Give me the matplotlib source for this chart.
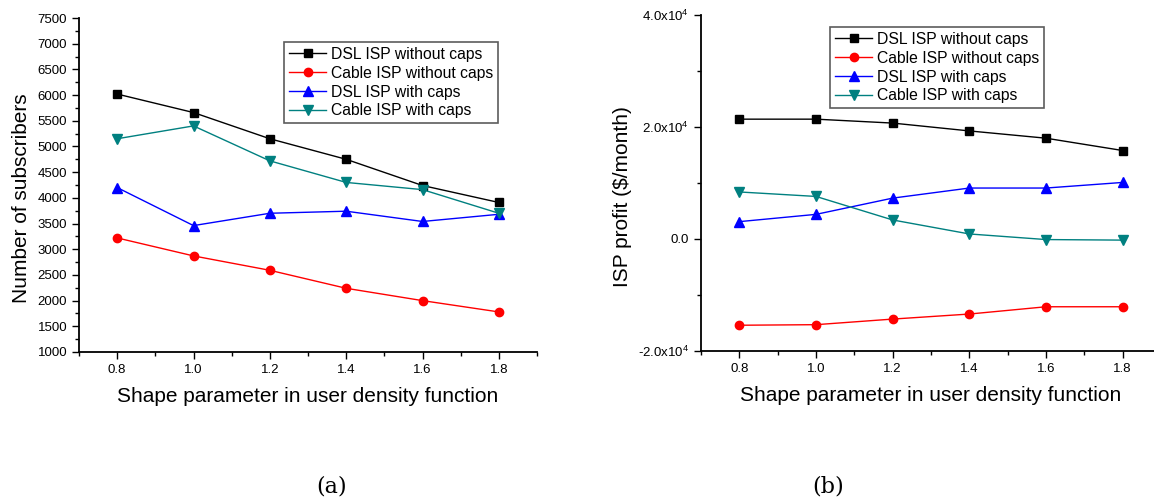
import matplotlib
matplotlib.use("Agg")
import matplotlib.pyplot as plt
from matplotlib.ticker import MultipleLocator, FixedLocator, FixedFormatter

plt.rcParams['font.family'] = ['Liberation Sans', 'DejaVu Sans']
plt.rcParams['mathtext.fontset'] = 'custom'
plt.rcParams['mathtext.rm'] = 'Liberation Sans'

shape = [0.8, 1.0, 1.2, 1.4, 1.6, 1.8]
series_names = ["DSL ISP without caps", "Cable ISP without caps",
                "DSL ISP with caps", "Cable ISP with caps"]

subs_dsl_nocap = [6020, 5660, 5150, 4750, 4240, 3910]
subs_cable_nocap = [3220, 2870, 2590, 2240, 2000, 1780]
subs_dsl_cap = [4200, 3460, 3700, 3740, 3540, 3680]
subs_cable_cap = [5150, 5400, 4720, 4300, 4160, 3700]

profit_dsl_nocap = [21400, 21400, 20700, 19300, 18000, 15800]
profit_cable_nocap = [-15400, -15300, -14300, -13400, -12100, -12100]
profit_dsl_cap = [3100, 4400, 7300, 9100, 9100, 10100]
profit_cable_cap = [8400, 7600, 3400, 900, -100, -200]

profit_ticks = [-20000, 0, 20000, 40000]
profit_ticklabels = [r"-2.0x10$^4$", "0.0", r"2.0x10$^4$", r"4.0x10$^4$"]

colors = ["#000000", "#ff0000", "#0000ff", "#008080"]
markers = ["s", "o", "^", "v"]
msizes = [5.5, 6.0, 6.5, 6.5]

W, H = 1154, 501
fig = plt.figure(figsize=(W / 100, H / 100), dpi=100)

def style_axes(ax):
    for s in ["top", "right"]:
        ax.spines[s].set_visible(False)
    for s in ["left", "bottom"]:
        ax.spines[s].set_linewidth(1.3)
    ax.tick_params(which="both", direction="out", width=1.0, labelsize=9.5)
    ax.tick_params(which="major", length=5)
    ax.tick_params(which="minor", length=3)
    ax.set_xlim(0.7, 1.9)
    ax.xaxis.set_major_locator(FixedLocator(shape))
    ax.xaxis.set_major_formatter(FixedFormatter(["%.1f" % v for v in shape]))
    ax.xaxis.set_minor_locator(MultipleLocator(0.1))
    ax.set_xlabel("Shape parameter in user density function", fontsize=15, labelpad=8)

def plot_series(ax, data):
    hs = []
    for d, c, m, ms, n in zip(data, colors, markers, msizes, series_names):
        h, = ax.plot(shape, d, color=c, marker=m, markersize=ms, linewidth=1.0,
                     markeredgecolor=c, label=n, clip_on=False)
        hs.append(h)
    return hs

# Left panel
ax1 = fig.add_axes([79 / W, 1 - 352 / H, (537 - 79) / W, (352 - 18) / H])
style_axes(ax1)
plot_series(ax1, [subs_dsl_nocap, subs_cable_nocap, subs_dsl_cap, subs_cable_cap])
ax1.set_ylim(1000, 7500)
ax1.yaxis.set_major_locator(MultipleLocator(500))
ax1.yaxis.set_minor_locator(MultipleLocator(250))
ax1.set_ylabel("Number of subscribers", fontsize=15, labelpad=5)
ax1.yaxis.label.set_y(0.46)
leg1 = ax1.legend(loc="upper left", bbox_to_anchor=(284 / W, 1 - 42 / H),
                  bbox_transform=fig.transFigure, borderaxespad=0,
                  fontsize=11.3, frameon=True, fancybox=False, handlelength=2.4,
                  handletextpad=0.3, labelspacing=0.25, borderpad=0.3)
leg1.get_frame().set_edgecolor("#333333")
leg1.get_frame().set_linewidth(1.2)

# Right panel
ax2 = fig.add_axes([701 / W, 1 - 351 / H, (1161 - 701) / W, (351 - 15) / H])
style_axes(ax2)
plot_series(ax2, [profit_dsl_nocap, profit_cable_nocap, profit_dsl_cap, profit_cable_cap])
ax2.set_ylim(-20000, 40000)
ax2.yaxis.set_major_locator(FixedLocator(profit_ticks))
ax2.yaxis.set_major_formatter(FixedFormatter(profit_ticklabels))
ax2.yaxis.set_minor_locator(MultipleLocator(10000))
ax2.set_ylabel(r"ISP profit (\$/month)", fontsize=15, labelpad=4)
ax2.yaxis.label.set_y(0.46)
leg2 = ax2.legend(loc="upper left", bbox_to_anchor=(830 / W, 1 - 27 / H),
                  bbox_transform=fig.transFigure, borderaxespad=0,
                  fontsize=11.3, frameon=True, fancybox=False, handlelength=2.4,
                  handletextpad=0.3, labelspacing=0.25, borderpad=0.3)
leg2.get_frame().set_edgecolor("#333333")
leg2.get_frame().set_linewidth(1.2)

fig.text(332 / W, 1 - 487 / H, "(a)", fontsize=16, family=["DejaVu Serif"],
         ha="center", va="center")
fig.text(828 / W, 1 - 487 / H, "(b)", fontsize=16, family=["DejaVu Serif"],
         ha="center", va="center")

fig.savefig("out.png", dpi=100)
